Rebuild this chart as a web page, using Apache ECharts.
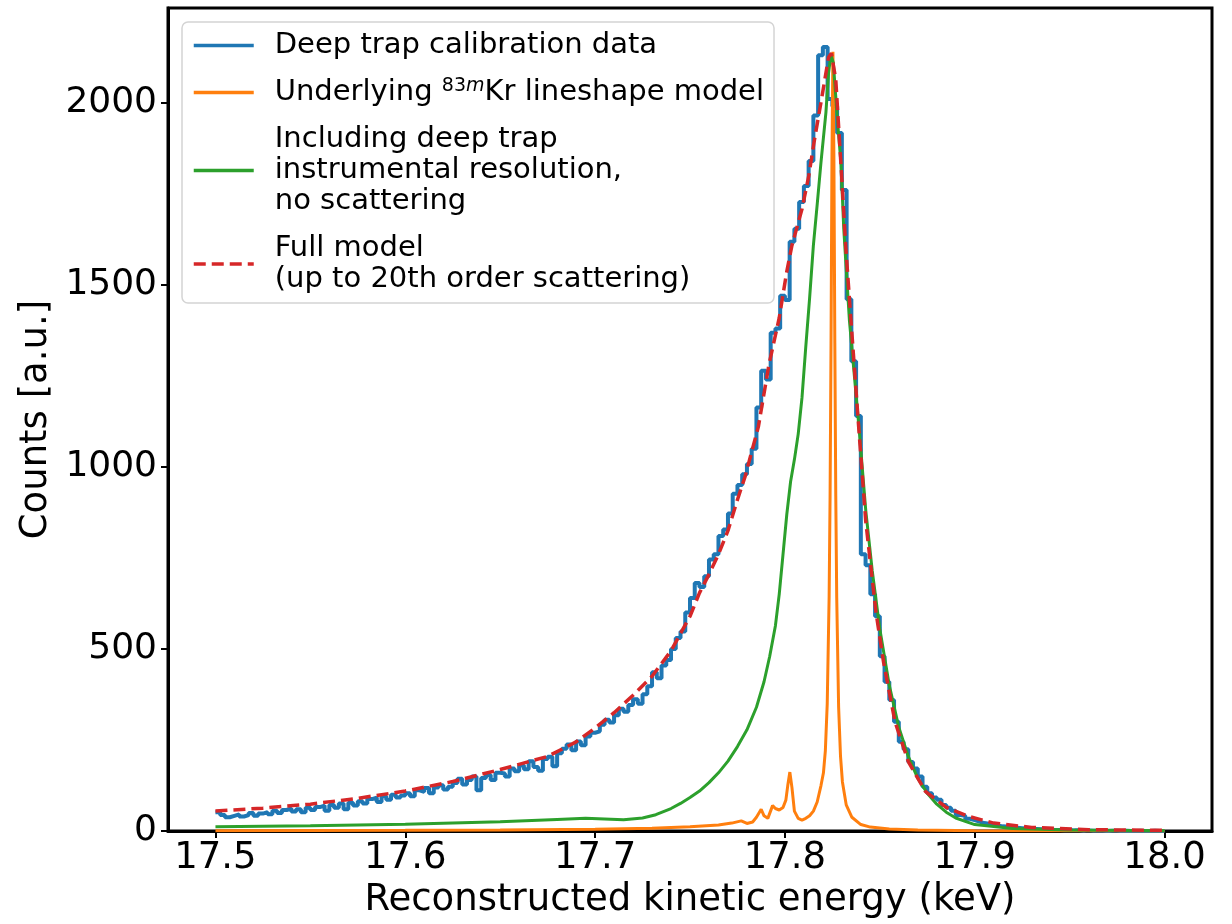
<!DOCTYPE html>
<html>
<head>
<meta charset="utf-8">
<script src="https://cdn.jsdelivr.net/npm/echarts@6/dist/echarts.min.js"></script>
<style>
  html, body { margin: 0; padding: 0; background: #fff; }
  #chart { width: 1232px; height: 924px; }
</style>
</head>
<body>
<div id="chart"></div>
<script>
// ---------------- DATA ----------------
const xTicks = [17.5, 17.6, 17.7, 17.8, 17.9, 18.0];
const yTicks = [0, 500, 1000, 1500, 2000];

// Histogram (deep trap calibration data): bins of 0.0025 keV starting at 17.5 keV
const histStart = 17.5;
const binWidth = 0.0025;
const histCounts = [
  52, 44, 38, 42, 46, 40, 44, 50, 42, 48,
  52, 46, 56, 50, 58, 62, 54, 60, 52, 64,
  58, 66, 70, 56, 72, 64, 76, 60, 78, 70,
  82, 76, 88, 92, 80, 96, 86, 100, 92, 98,
  104, 96, 112, 108, 118, 104, 120, 126, 114, 122,
  132, 144, 128, 140, 150, 112, 146, 154, 140, 160,
  158, 150, 172, 164, 180, 170, 192, 176, 166, 198,
  204, 178, 214, 226, 238, 222, 246, 236, 260, 270,
  274, 292, 306, 298, 318, 336, 328, 346, 362, 350,
  376, 398, 436, 420, 455, 470, 500, 530, 548, 600,
  640, 681, 670, 700, 746, 760, 810, 828, 872, 926,
  950, 980, 1008, 1050, 1163, 1264, 1240, 1368, 1380, 1470,
  1458, 1618, 1654, 1727, 1771, 1840, 1965, 2130, 2153, 2010,
  1990, 1917, 1760, 1460, 1290, 1140, 760, 730, 650, 590,
  480, 410, 360, 300, 245, 225, 190, 172, 150, 122,
  104, 92, 86, 72, 64, 56, 44, 42, 34, 30,
  26, 22, 20, 17, 15, 13, 12, 10, 9, 8,
  7, 6, 6, 5, 4, 4, 3, 3, 2, 3,
  2, 2, 1, 2, 1, 1, 1, 0, 1, 1,
  0, 1, 0, 0, 1, 0, 0, 1, 0, 0
];

// Underlying 83mKr lineshape model
const orangeE = [17.5, 17.6, 17.65, 17.7, 17.73, 17.75, 17.765, 17.772, 17.777, 17.78, 17.783, 17.785, 17.7875, 17.789, 17.791, 17.7935, 17.795, 17.797, 17.799, 17.8005, 17.8015, 17.8026, 17.8037, 17.805, 17.807, 17.809, 17.811, 17.813, 17.815, 17.817, 17.819, 17.8203, 17.8213, 17.8223, 17.8233, 17.8238, 17.8243, 17.8248, 17.8253, 17.8258, 17.8263, 17.8268, 17.8273, 17.8283, 17.8293, 17.8303, 17.8323, 17.8353, 17.84, 17.845, 17.855, 17.87, 17.9, 18.0];
const orangeC = [1, 2, 3, 5, 8, 12, 17, 22, 28, 21, 25, 38, 60, 42, 35, 70, 62, 58, 65, 85, 125, 162, 120, 55, 35, 30, 35, 42, 55, 80, 125, 160, 220, 350, 645, 920, 1340, 1860, 2140, 1860, 1340, 920, 640, 340, 205, 135, 72, 38, 18, 11, 6, 3, 1, 0.5];

// Including deep trap instrumental resolution, no scattering
const greenE = [17.5, 17.55, 17.6, 17.65, 17.68, 17.695, 17.705, 17.715, 17.725, 17.732, 17.74, 17.745, 17.75, 17.755, 17.76, 17.765, 17.77, 17.775, 17.78, 17.785, 17.789, 17.792, 17.795, 17.797, 17.799, 17.801, 17.803, 17.805, 17.807, 17.809, 17.811, 17.813, 17.815, 17.817, 17.819, 17.8216, 17.823, 17.8242, 17.8255, 17.8268, 17.828, 17.8295, 17.831, 17.834, 17.839, 17.8426, 17.846, 17.85, 17.855, 17.86, 17.865, 17.87, 17.875, 17.88, 17.885, 17.89, 17.9, 17.92, 17.95, 18.0];
const greenC = [12, 15, 19, 26, 32, 35, 33, 31, 36, 45, 62, 76, 92, 110, 133, 160, 192, 232, 278, 340, 410, 480, 564, 650, 760, 870, 960, 1020, 1090, 1190, 1330, 1463, 1608, 1720, 1836, 1973, 2082, 2131, 2110, 2016, 1930, 1836, 1654, 1401, 1110, 880, 715, 555, 400, 285, 205, 145, 104, 74, 52, 36, 18, 7, 3, 1];

// Full model (up to 20th order scattering)
const redE = [17.5, 17.525, 17.55, 17.575, 17.6, 17.625, 17.65, 17.675, 17.69, 17.7, 17.71, 17.72, 17.73, 17.74, 17.75, 17.755, 17.76, 17.765, 17.77, 17.775, 17.779, 17.786, 17.7916, 17.797, 17.801, 17.8037, 17.809, 17.8126, 17.8153, 17.8195, 17.823, 17.8245, 17.8268, 17.8284, 17.83, 17.832, 17.8347, 17.839, 17.8426, 17.846, 17.848, 17.852, 17.858, 17.865, 17.874, 17.885, 17.897, 17.91, 17.93, 17.96, 18.0];
const redC = [55, 63, 74, 90, 110, 136, 169, 205, 245, 283, 325, 373, 425, 495, 590, 654, 705, 760, 825, 910, 973, 1110, 1281, 1409, 1537, 1608, 1708, 1800, 1890, 2016, 2125, 2136, 2063, 1926, 1790, 1608, 1409, 1100, 850, 692, 600, 463, 300, 191, 109, 65, 40, 22, 10, 4, 2];

const legendNames = {
  data: 'Deep trap calibration data',
  lineshape: 'Underlying {sup|83}{supi|m}Kr lineshape model',
  resolution: 'Including deep trap\ninstrumental resolution,\nno scattering',
  full: 'Full model\n(up to 20th order scattering)'
};

// ---------------- BUILD ----------------
const histPoints = histCounts.map((c, i) => [histStart + i * binWidth, c]);
histPoints.push([histStart + histCounts.length * binWidth, histCounts[histCounts.length - 1]]);
const pairs = (xs, ys) => xs.map((x, i) => [x, ys[i]]);

const chart = echarts.init(document.getElementById('chart'), null, { renderer: 'canvas' });
const FONT = 'DejaVu Sans';

chart.setOption({
  animation: false,
  backgroundColor: '#fff',
  textStyle: { fontFamily: FONT },
  grid: {
    left: 168, right: 20, top: 8, bottom: 87,
    show: true, borderColor: '#000', borderWidth: 3, backgroundColor: '#fff'
  },
  legend: {
    orient: 'vertical',
    left: 182, top: 22,
    padding: [8, 10, 8, 10],
    backgroundColor: '#fff',
    borderColor: '#d4d4d4',
    borderWidth: 1.5,
    borderRadius: 6,
    itemGap: 16,
    itemWidth: 60,
    itemHeight: 14,
    selectedMode: false,
    data: ['data', 'lineshape', 'resolution', 'full'],
    formatter: n => legendNames[n],
    itemStyle: { color: 'rgba(0,0,0,0)', borderColor: 'rgba(0,0,0,0)', borderWidth: 0, opacity: 0 },
    lineStyle: { width: 3.5 },
    textStyle: {
      fontFamily: FONT, fontSize: 29, color: '#000', lineHeight: 31,
      padding: [0, 0, 0, 16],
      rich: {
        sup: { fontFamily: FONT, fontSize: 19, lineHeight: 20, verticalAlign: 'top', color: '#000' },
        supi: { fontFamily: FONT, fontSize: 19, lineHeight: 20, verticalAlign: 'top', fontStyle: 'italic', color: '#000' }
      }
    }
  },
  xAxis: {
    type: 'value',
    min: 17.475, max: 18.025,
    name: 'Reconstructed kinetic energy (keV)',
    nameLocation: 'middle',
    nameGap: 49,
    nameTextStyle: { fontFamily: FONT, fontSize: 37, color: '#000' },
    axisLine: { show: true, onZero: false, lineStyle: { color: '#000', width: 3 } },
    axisTick: { show: true, customValues: xTicks, length: 7, lineStyle: { color: '#000', width: 2 } },
    axisLabel: {
      customValues: xTicks, fontFamily: FONT, fontSize: 37, color: '#000', margin: 9,
      formatter: v => Number(v).toFixed(1)
    },
    splitLine: { show: false }
  },
  yAxis: {
    type: 'value',
    min: 0, max: 2260,
    name: 'Counts [a.u.]',
    nameLocation: 'middle',
    nameGap: 95,
    nameTextStyle: { fontFamily: FONT, fontSize: 37, color: '#000' },
    axisLine: { show: true, lineStyle: { color: '#000', width: 3 } },
    axisTick: { show: true, customValues: yTicks, length: 7, lineStyle: { color: '#000', width: 2 } },
    axisLabel: {
      customValues: yTicks, fontFamily: FONT, fontSize: 36, color: '#000', margin: 11,
      formatter: v => String(Math.round(v))
    },
    splitLine: { show: false }
  },
  series: [
    {
      name: 'data', type: 'line', step: 'end', data: histPoints,
      symbol: 'none', showSymbol: false, silent: true, z: 2,
      lineStyle: { color: '#1f77b4', width: 4 }, itemStyle: { color: '#1f77b4' }
    },
    {
      name: 'lineshape', type: 'line', data: pairs(orangeE, orangeC),
      symbol: 'none', showSymbol: false, silent: true, z: 3,
      lineStyle: { color: '#ff7f0e', width: 3 }, itemStyle: { color: '#ff7f0e' }
    },
    {
      name: 'resolution', type: 'line', data: pairs(greenE, greenC),
      symbol: 'none', showSymbol: false, silent: true, z: 4,
      lineStyle: { color: '#2ca02c', width: 3 }, itemStyle: { color: '#2ca02c' }
    },
    {
      name: 'full', type: 'line', data: pairs(redE, redC),
      symbol: 'none', showSymbol: false, silent: true, z: 5,
      lineStyle: { color: '#d62728', width: 3.5, type: [12, 6] }, itemStyle: { color: '#d62728' }
    }
  ]
});
</script>
</body>
</html>
